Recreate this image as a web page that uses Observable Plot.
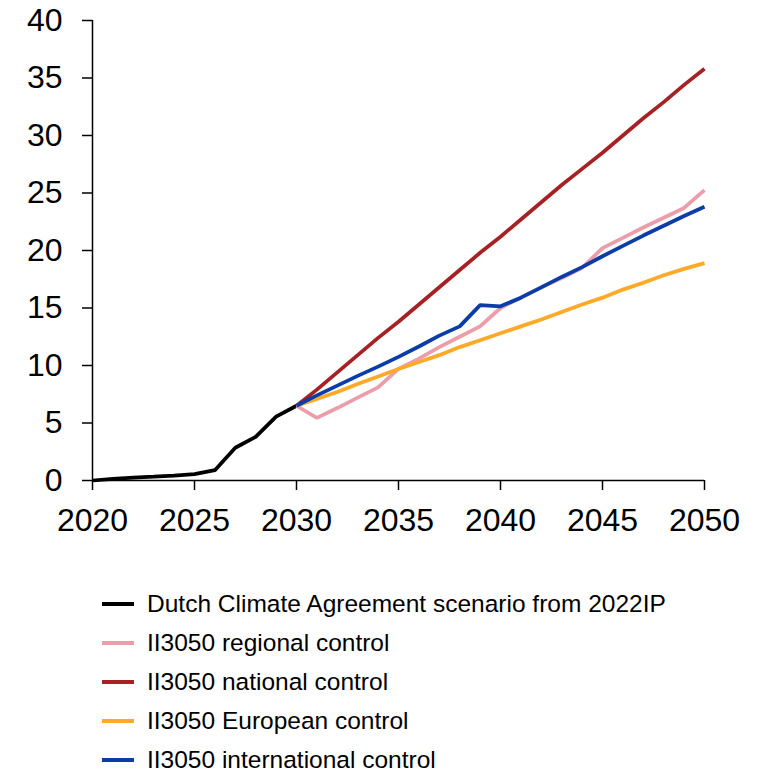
<!DOCTYPE html>
<html>
<head>
<meta charset="utf-8">
<script src="https://cdn.jsdelivr.net/npm/d3@7"></script>
<script src="https://cdn.jsdelivr.net/npm/@observablehq/plot@0.6"></script>
<style>
  html, body { margin: 0; padding: 0; background: #fff; }
  body { width: 761px; font-family: "Liberation Sans", Arial, sans-serif; }
  #legend { padding-top: 24px; padding-left: 102px; }
  .row { height: 39px; display: flex; align-items: center; font-size: 24.5px; color: #000; white-space: nowrap; }
  .row svg { margin-right: 13px; }
</style>
</head>
<body>
<div id="chart"></div>
<div id="legend"></div>
<script>
// Historical / agreement path, 2020–2030
const historyYears = [2020, 2021, 2022, 2023, 2024, 2025, 2026, 2027, 2028, 2029, 2030];
const historyValues = [0, 0.15, 0.25, 0.33, 0.42, 0.55, 0.9, 2.85, 3.8, 5.55, 6.5];

// II3050 scenarios, 2030–2050
const scenarioYears = [2030, 2031, 2032, 2033, 2034, 2035, 2036, 2037, 2038, 2039, 2040,
                       2041, 2042, 2043, 2044, 2045, 2046, 2047, 2048, 2049, 2050];
const regional      = [6.5, 5.45, 6.3, 7.2, 8.1, 9.7, 10.6, 11.6, 12.5, 13.4, 15.0,
                       15.9, 16.8, 17.6, 18.5, 20.2, 21.1, 22.0, 22.85, 23.7, 25.25];
const national      = [6.5, 7.9, 9.4, 10.9, 12.4, 13.8, 15.3, 16.8, 18.3, 19.8, 21.2,
                       22.7, 24.2, 25.7, 27.1, 28.5, 30.0, 31.5, 32.9, 34.4, 35.8];
const european      = [6.5, 7.1, 7.7, 8.4, 9.05, 9.7, 10.3, 10.9, 11.6, 12.2, 12.8,
                       13.4, 14.0, 14.65, 15.3, 15.9, 16.6, 17.2, 17.85, 18.4, 18.9];
const international = [6.5, 7.4, 8.25, 9.1, 9.9, 10.75, 11.65, 12.6, 13.4, 15.25, 15.15,
                       15.9, 16.8, 17.7, 18.55, 19.5, 20.4, 21.3, 22.15, 23.0, 23.8];

const seriesNames = [
  "Dutch Climate Agreement scenario from 2022IP",
  "II3050 regional control",
  "II3050 national control",
  "II3050 European control",
  "II3050 international control"
];
const seriesColors = ["#000000", "#EB9EA9", "#A52124", "#FFA928", "#0A3DA8"];

const xTicks = [2020, 2025, 2030, 2035, 2040, 2045, 2050];
const yTicks = [0, 5, 10, 15, 20, 25, 30, 35, 40];

const table = [
  ...historyYears.map((year, i) => ({series: seriesNames[0], year, value: historyValues[i]})),
  ...[regional, national, european, international].flatMap((vals, k) =>
    scenarioYears.map((year, i) => ({series: seriesNames[k + 1], year, value: vals[i]})))
];

const font = "Liberation Sans, Arial, sans-serif";

const chart = Plot.plot({
  width: 761,
  height: 560,
  marginLeft: 92,
  marginRight: 57,
  marginTop: 20,
  marginBottom: 80,
  style: {fontFamily: font, background: "#fff", color: "#000"},
  x: {domain: [2020, 2050]},
  y: {domain: [0, 40]},
  color: {domain: seriesNames, range: seriesColors},
  marks: [
    Plot.axisY({ticks: yTicks, tickSize: 10, tickPadding: 20, fontSize: 32, label: null, stroke: "#000", strokeWidth: 1.5}),
    Plot.axisX({ticks: xTicks, tickSize: 10, tickPadding: 18, fontSize: 32, label: null, tickFormat: d => String(d), stroke: "#000", strokeWidth: 1.5}),
    Plot.ruleX([2020], {stroke: "#000", strokeWidth: 1.5}),
    Plot.ruleY([0], {stroke: "#000", strokeWidth: 1.5}),
    Plot.line(table, {x: "year", y: "value", z: "series", stroke: "series", strokeWidth: 3.75, strokeLinejoin: "miter", strokeLinecap: "butt"})
  ]
});
document.getElementById("chart").appendChild(chart);

// Legend rows below the plot
const legend = d3.select("#legend");
seriesNames.forEach((name, i) => {
  const row = legend.append("div").attr("class", "row");
  const sw = row.append("svg").attr("width", 32).attr("height", 6);
  sw.append("line").attr("x1", 0).attr("x2", 32).attr("y1", 3).attr("y2", 3)
    .attr("stroke", seriesColors[i]).attr("stroke-width", 4);
  row.append("span").text(name);
});
</script>
</body>
</html>
